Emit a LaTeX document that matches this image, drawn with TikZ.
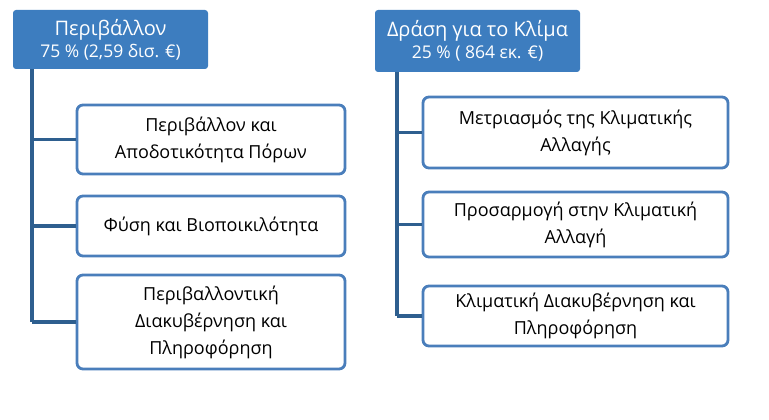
\documentclass[tikz,border=0pt]{standalone}
\usepackage{fontspec}
\setmainfont{Open Sans}
\definecolor{hdr}{HTML}{3D7DBF}
\definecolor{bord}{HTML}{4A7EBB}
\definecolor{conn}{HTML}{2E5F8F}
\begin{document}
\begin{tikzpicture}[x=1pt,y=-1pt,
 hbox/.style={fill=hdr,rounded corners=3pt,text=white,align=center,inner sep=0pt},
 cbox/.style={draw=bord,line width=2.8pt,rounded corners=6pt,fill=white,align=center,font=\fontsize{18}{27}\selectfont,inner sep=0pt},
 conline/.style={draw=conn,line width=3.2pt}]
\useasboundingbox (0,0) rectangle (769,420);
% left
\node[hbox,minimum width=195pt,minimum height=59pt] (h1) at (110.5,39.5) {{\fontsize{20}{22}\selectfont Περιβάλλον}\\[3pt]{\fontsize{17.5}{19}\selectfont 75 \% (2,59 δισ. €)}};
\node[cbox,minimum width=268pt,minimum height=69pt] (a1) at (211,139.5) {Περιβάλλον και\\Αποδοτικότητα Πόρων};
\node[cbox,minimum width=268pt,minimum height=60pt] (a2) at (211,226) {Φύση και Βιοποικιλότητα};
\node[cbox,minimum width=268pt,minimum height=94pt] (a3) at (211,322) {Περιβαλλοντική\\Διακυβέρνηση και\\Πληροφόρηση};
\coordinate (lt) at (32,69);
\coordinate (lb) at (32,322);
\draw[conline] (lt) -- (lb);
\draw[conline] (32,139.5) -- (a1.west);
\draw[conline] (32,226) -- (a2.west);
\draw[conline] (lb) -- (a3.west);
% right
\node[hbox,minimum width=205pt,minimum height=62pt] (h2) at (477.5,41) {{\fontsize{20}{22}\selectfont Δράση για το Κλίμα}\\[3pt]{\fontsize{17.5}{19}\selectfont 25 \% ( 864 εκ. €)}};
\node[cbox,minimum width=305pt,minimum height=71pt] (b1) at (575.5,132.5) {Μετριασμός της Κλιματικής\\Αλλαγής};
\node[cbox,minimum width=305pt,minimum height=65pt] (b2) at (575.5,224.5) {Προσαρμογή στην Κλιματική\\Αλλαγή};
\node[cbox,minimum width=305pt,minimum height=60pt] (b3) at (575.5,316) {Κλιματική Διακυβέρνηση και\\Πληροφόρηση};
\coordinate (rt) at (397,72);
\coordinate (rb) at (397,316);
\draw[conline] (rt) -- (rb);
\draw[conline] (397,132.5) -- (b1.west);
\draw[conline] (397,224.5) -- (b2.west);
\draw[conline] (rb) -- (b3.west);
\end{tikzpicture}
\end{document}
